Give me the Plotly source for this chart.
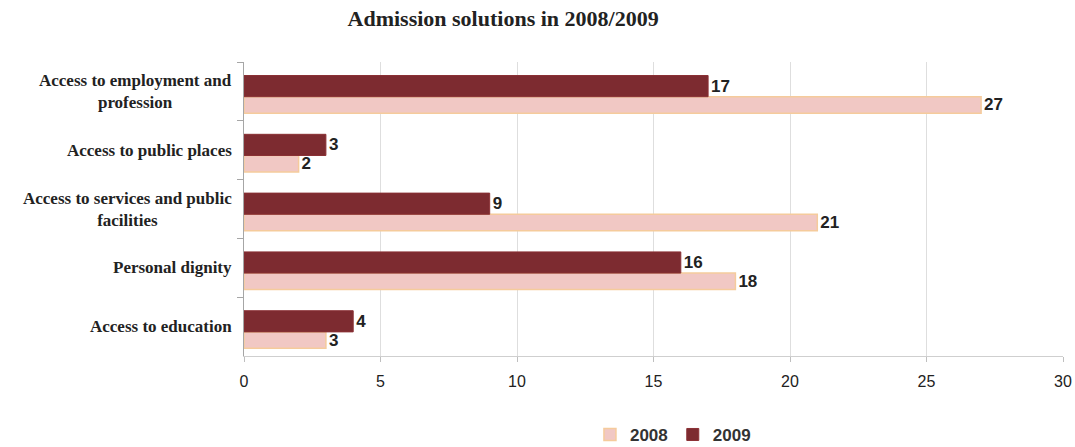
import plotly.graph_objects as go

categories = [
    "Access to employment and<br>profession",
    "Access to public places",
    "Access to services and public<br>facilities",
    "Personal dignity",
    "Access to education",
]
values_2008 = [27, 2, 21, 18, 3]
values_2009 = [17, 3, 9, 16, 4]
x_ticks = [0, 5, 10, 15, 20, 25, 30]

label_font = dict(family="Liberation Sans, Arial, sans-serif", size=17, color="#222222", weight="bold")
cat_font = dict(family="Liberation Serif, Times New Roman, serif", size=17, color="#222222", weight="bold")

fig = go.Figure()
fig.add_trace(go.Bar(
    name="2008", y=categories, x=values_2008, orientation="h",
    offset=0.09, width=0.28,
    marker=dict(color="#f1c8c4", line=dict(color="#f5cb9c", width=1.5)),
    text=[str(v) for v in values_2008], textposition="outside", constraintext="none",
    textfont=label_font, cliponaxis=False,
))
fig.add_trace(go.Bar(
    name="2009", y=categories, x=values_2009, orientation="h",
    offset=-0.27, width=0.36,
    marker=dict(color="#7d2b30", line=dict(color="#8a3034", width=1)),
    text=[str(v) for v in values_2009], textposition="outside", constraintext="none",
    textfont=label_font, cliponaxis=False,
))

# category labels, centred line by line like the original
for c in categories:
    fig.add_annotation(
        x=-0.0125, xref="paper", y=c, yref="y", text=c,
        xanchor="right", yanchor="middle", align="center", showarrow=False,
        font=cat_font,
    )

fig.update_layout(
    width=1075, height=447,
    margin=dict(l=244, r=12, t=62, b=91, autoexpand=False),
    paper_bgcolor="white", plot_bgcolor="white",
    barmode="overlay",
    title=dict(
        text="Admission solutions in 2008/2009",
        x=0.468, xref="container", xanchor="center",
        y=0.96, yref="container", yanchor="middle",
        font=dict(family="Liberation Serif, Times New Roman, serif", size=22,
                  color="#222222", weight="bold"),
    ),
    legend=dict(
        orientation="h", x=0.626, xref="container", xanchor="center",
        y=0.027, yref="container", yanchor="middle",
        font=dict(family="Liberation Sans, Arial, sans-serif", size=17, color="#333333", weight="bold"),
        traceorder="normal", itemwidth=30,
    ),
    showlegend=True,
)
fig.update_xaxes(
    range=[0, 30], tickvals=x_ticks, ticktext=[str(t) for t in x_ticks],
    showgrid=True, gridcolor="#dedede", gridwidth=1,
    showline=True, linecolor="#cfcfcf", linewidth=1,
    ticks="outside", ticklen=5, tickcolor="#bfbfbf", ticklabelstandoff=6,
    tickfont=dict(family="Liberation Sans Narrow, Arial Narrow, Liberation Sans, sans-serif", size=16, color="#222222"),
    zeroline=False, fixedrange=True, automargin=False,
)
fig.update_yaxes(
    autorange="reversed", showticklabels=False,
    showline=True, linecolor="#a6a6a6", linewidth=1,
    ticks="outside", ticklen=6, tickcolor="#a6a6a6", tickson="boundaries",
    showgrid=False, fixedrange=True, automargin=False,
)

fig.write_html("out.html")
